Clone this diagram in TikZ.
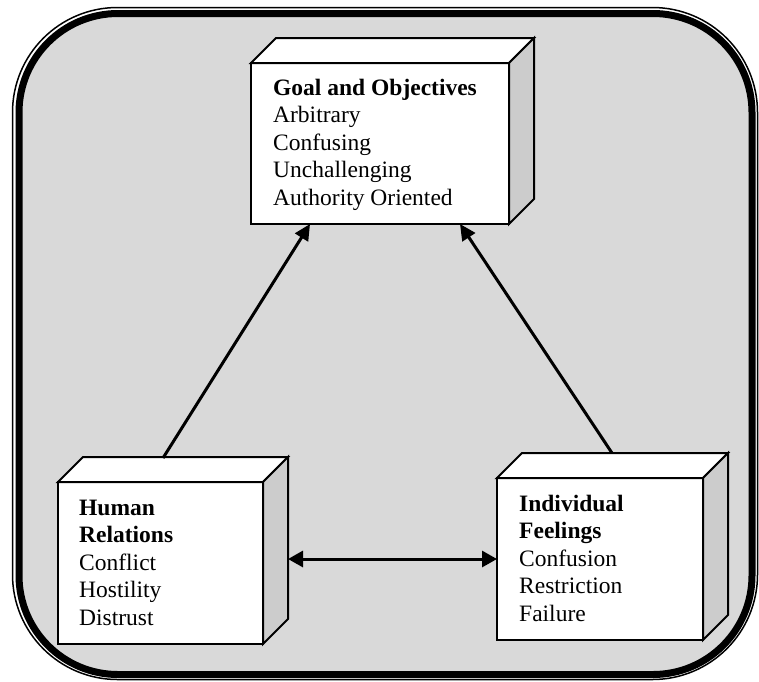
\documentclass[tikz,border=0pt]{standalone}
\usepackage{fontspec}
\setmainfont{Liberation Serif}
\usetikzlibrary{arrows.meta,calc}
\definecolor{panel}{gray}{0.85}
\definecolor{sidegray}{gray}{0.80}
\begin{document}
\begin{tikzpicture}[x=1pt,y=-1pt,
  face/.style={draw=black,line width=2pt,line join=miter},
  frontface/.style={face,fill=white,rectangle,inner sep=0pt,outer sep=0pt,anchor=north west},
  boxtext/.style={anchor=base west,inner sep=0pt,font=\fontsize{23.5}{27.5}\selectfont},
  link/.style={line width=3pt,-{Triangle[length=16pt,width=15pt]}},
  duallink/.style={line width=3pt,{Triangle[length=15pt,width=16pt]}-{Triangle[length=15pt,width=16pt]}},
]
\useasboundingbox (0,0) rectangle (759,681);

% double frame with grey panel
\draw[line width=1.5pt,rounded corners=105pt] (12.5,7.5) rectangle (757.5,679.5);
\draw[line width=7pt,fill=panel,rounded corners=99pt] (19,13.5) rectangle (752,674.5);

% front faces of the three blocks
\node[frontface,minimum width=258pt,minimum height=161pt] (gfront) at (251,63) {};
\node[frontface,minimum width=205pt,minimum height=162pt] (hfront) at (58,482) {};
\node[frontface,minimum width=206pt,minimum height=162pt] (ifront) at (497,478) {};

% top and side faces give each block its depth
\foreach \n in {gfront,hfront,ifront}{
  \draw[face,fill=white] (\n.north west) -- ++(25,-25) -- ($(\n.north east)+(25,-25)$) -- (\n.north east) -- cycle;
  \draw[face,fill=sidegray] (\n.north east) -- ++(25,-25) -- ($(\n.south east)+(25,-25)$) -- (\n.south east) -- cycle;
}

% block texts
\node[boxtext] (gtext) at (273,95) {\parbox[t]{230pt}{\textbf{Goal and Objectives}\\Arbitrary\\Confusing\\Unchallenging\\Authority Oriented}};
\node[boxtext] (htext) at (79,515) {\parbox[t]{170pt}{\textbf{Human}\\\textbf{Relations}\\Conflict\\Hostility\\Distrust}};
\node[boxtext] (itext) at (519,511) {\parbox[t]{170pt}{\textbf{Individual}\\\textbf{Feelings}\\Confusion\\Restriction\\Failure}};

% connectors
\coordinate (htop) at ($(hfront.north west)+(105,-24)$);
\coordinate (itop) at ($(ifront.north west)+(115,-25)$);
\draw[link] (htop) -- ($(gfront.south west)+(59,0)$);
\draw[link] (itop) -- ($(gfront.south west)+(209,0)$);
\draw[duallink] ($(hfront.east)+(25,-4)$) -- ($(ifront.west)+(0,0)$);
\end{tikzpicture}
\end{document}
